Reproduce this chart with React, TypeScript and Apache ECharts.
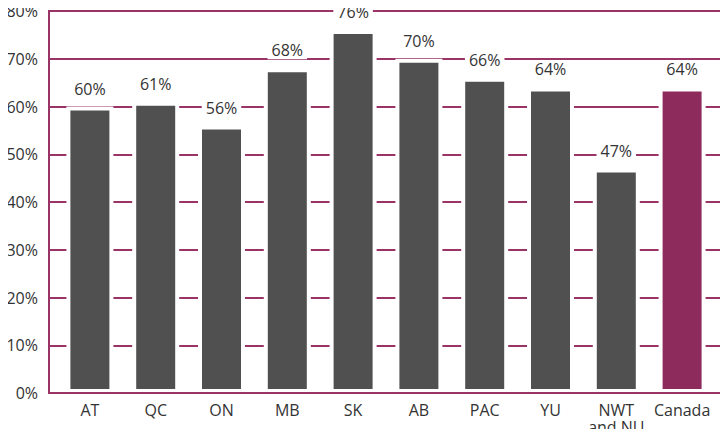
import React, { useEffect, useRef } from "react";
import * as echarts from "echarts";

const categories = ["AT", "QC", "ON", "MB", "SK", "AB", "PAC", "YU", "NWT\nand NU", "Canada"];
const shares = [60, 61, 56, 68, 76, 70, 66, 64, 47, 64];
const yTicks = [0, 10, 20, 30, 40, 50, 60, 70, 80];

const GRAY = "#505050";
const MAROON = "#8c2b5c";
const LINE = "#9a3366";
const TEXT = "#333333";
const FONT = "'Open Sans', 'Noto Sans', sans-serif";

export default function App() {
  const ref = useRef<HTMLDivElement>(null);

  useEffect(() => {
    if (!ref.current) return;
    const chart = echarts.init(ref.current, null, { renderer: "svg" });
    const frame = { left: 49, top: 11, right: 723, bottom: 393 };

    chart.setOption({
      animation: false,
      backgroundColor: "#ffffff",
      textStyle: { fontFamily: FONT },
      grid: [
        { left: frame.left, right: 728 - frame.right, top: frame.top, bottom: 437 - frame.bottom },
        { left: 57, right: 13, top: frame.top, bottom: 437 - frame.bottom },
      ],
      xAxis: [
        { type: "value", gridIndex: 0, min: 0, max: 1, show: false },
        {
          type: "category",
          gridIndex: 1,
          data: categories,
          axisLine: { show: false },
          axisTick: { show: false },
          axisLabel: {
            interval: 0,
            color: TEXT,
            fontSize: 16,
            lineHeight: 17,
            margin: 8,
            fontFamily: FONT,
          },
        },
      ],
      yAxis: [
        {
          type: "value",
          gridIndex: 0,
          min: yTicks[0],
          max: yTicks[yTicks.length - 1],
          interval: 10,
          axisLine: { show: false },
          axisTick: { show: false },
          axisLabel: {
            color: TEXT,
            fontSize: 16,
            margin: 11,
            padding: [3, 0, 0, 0],
            fontFamily: FONT,
            formatter: (v: number) => `${v}%`,
          },
          splitLine: { lineStyle: { color: LINE, width: 2 } },
        },
        { type: "value", gridIndex: 1, min: 0, max: 80, show: false },
      ],
      series: [
        {
          type: "bar",
          xAxisIndex: 1,
          yAxisIndex: 1,
          barWidth: 47,
          clip: false,
          z: 5,
          data: shares.map((v, i) => ({
            value: v,
            itemStyle: {
              color: i === shares.length - 1 ? MAROON : GRAY,
              borderColor: "#ffffff",
              borderWidth: 4,
            },
          })),
          label: {
            show: true,
            position: "top",
            distance: 9,
            color: TEXT,
            fontSize: 16,
            fontFamily: FONT,
            backgroundColor: "#ffffff",
            padding: [1, 4],
            formatter: (p: any) => `${p.value}%`,
          },
        },
      ],
      graphic: [
        {
          // plot frame, kept under the bars and their labels
          type: "rect",
          z: 1,
          shape: {
            x: frame.left,
            y: frame.top,
            width: frame.right - frame.left,
            height: frame.bottom - frame.top,
          },
          style: { fill: "none", stroke: LINE, lineWidth: 2 },
        },
        {
          // baseline drawn over the bars' white outline
          type: "line",
          z: 100,
          shape: { x1: frame.left, y1: frame.bottom, x2: frame.right, y2: frame.bottom },
          style: { stroke: LINE, lineWidth: 2 },
        },
      ],
    });

    return () => chart.dispose();
  }, []);

  return <div ref={ref} style={{ width: 728, height: 437, margin: -8 }} />;
}
